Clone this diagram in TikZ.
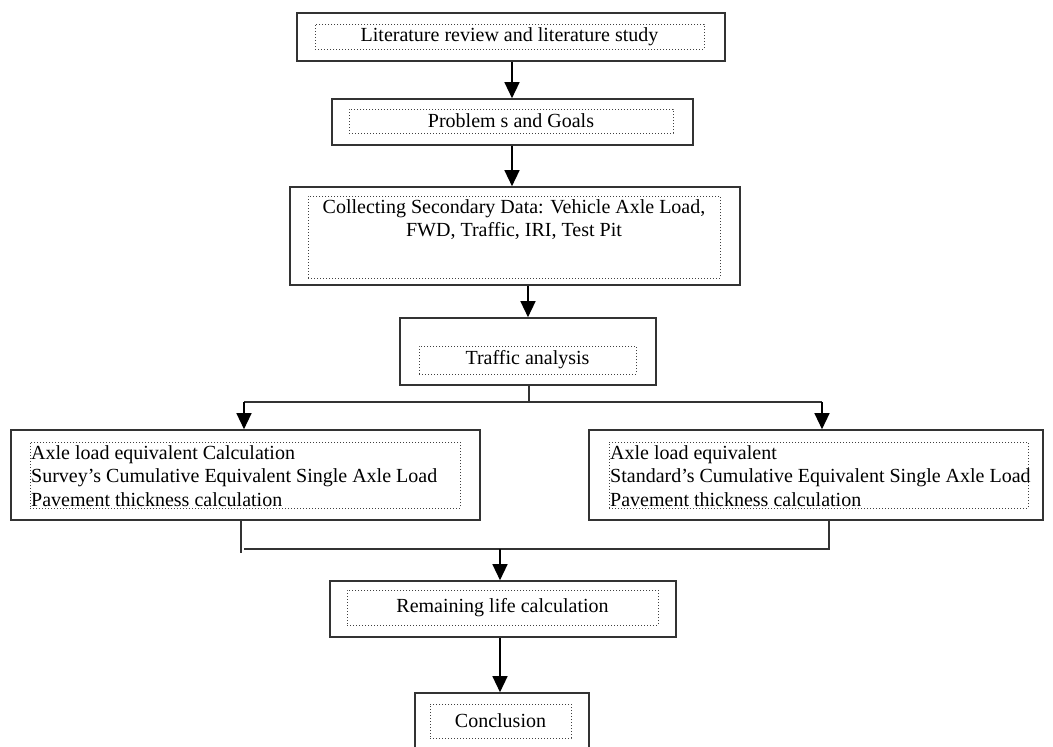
\documentclass[tikz,border=0pt]{standalone}
\usepackage{fontspec}
\setmainfont{Liberation Serif}
\usetikzlibrary{arrows.meta}
\tikzset{
  outbox/.style={draw=black!80, line width=1.6pt, inner sep=0pt},
  inbox/.style={draw=black!75, dotted, line width=1pt, inner sep=0pt},
  arr/.style={line width=1.3pt, -{Triangle[width=15pt,length=16pt]}},
  lin/.style={line width=1.3pt, black!80},
}
\begin{document}
\begin{tikzpicture}[x=1pt, y=-1pt, font=\fontsize{20}{23.5}\selectfont]
\useasboundingbox (0,0) rectangle (1053,747);
% boxes down the middle
\node[outbox, minimum width=428, minimum height=48] (lit) at (511,37) {};
\node[inbox, minimum width=389, minimum height=25] (litin) at (509.5,36.5) {Literature review and literature study};
\node[outbox, minimum width=361, minimum height=46] (prob) at (512.5,122) {};
\node[inbox, minimum width=324, minimum height=24] (probin) at (511,121) {Problem s and Goals};
\node[outbox, minimum width=450, minimum height=98] (coll) at (515,236) {};
\node[inbox, minimum width=412, minimum height=82] (collin) at (514,237) {};
\node[anchor=north, align=center, inner sep=0pt] (colltxt) at (514,199) {Collecting Secondary Data: Vehicle Axle Load,\\FWD, Traffic, IRI, Test Pit};
\node[outbox, minimum width=256, minimum height=67] (traf) at (528,351.5) {};
\node[inbox, minimum width=217, minimum height=28] (trafin) at (527.5,360) {Traffic analysis};
% the two branches
\node[outbox, minimum width=469, minimum height=90] (surv) at (245.5,475) {};
\node[inbox, minimum width=430, minimum height=66] (survin) at (245,475) {};
\node[anchor=west, align=left, inner sep=0pt] (survtxt) at (31,476) {Axle load equivalent Calculation\\Survey's Cumulative Equivalent Single Axle Load\\Pavement thickness calculation};
\node[outbox, minimum width=454, minimum height=90] (stan) at (816,475) {};
\node[inbox, minimum width=419, minimum height=66] (stanin) at (818.5,475) {};
\node[anchor=west, align=left, inner sep=0pt] (stantxt) at (610,476) {Axle load equivalent\\Standard's Cumulative Equivalent Single Axle Load\\Pavement thickness calculation};
\node[outbox, minimum width=346, minimum height=56] (rem) at (503,609) {};
\node[inbox, minimum width=311, minimum height=35] (remin) at (502.5,607.5) {Remaining life calculation};
\node[outbox, minimum width=174, minimum height=60] (conc) at (502,723) {};
\node[inbox, minimum width=141, minimum height=34] (concin) at (500.5,721) {Conclusion};
% connectors
\coordinate (split) at (529,402);
\coordinate (join) at (500,549);
\draw[arr] (lit.south -| 512,0) -- (prob.north -| 512,0);
\draw[arr] (prob.south -| 512,0) -- (coll.north -| 512,0);
\draw[arr] (coll.south -| traf.north) -- (traf.north);
\draw[lin] (traf.south -| split) -- (split);
\draw[lin] (244,402) -- (822,402);
\draw[arr] (244,402) -- (surv.north -| 244,0);
\draw[arr] (822,402) -- (stan.north -| 822,0);
\draw[lin] (surv.south -| 241,0) -- (241,553);
\draw[lin] (stan.south -| 829,0) -- (829,549) -- (244,549);
\draw[arr] (join) -- (rem.north -| join);
\draw[arr] (rem.south -| join) -- (conc.north -| join);
\end{tikzpicture}
\end{document}
